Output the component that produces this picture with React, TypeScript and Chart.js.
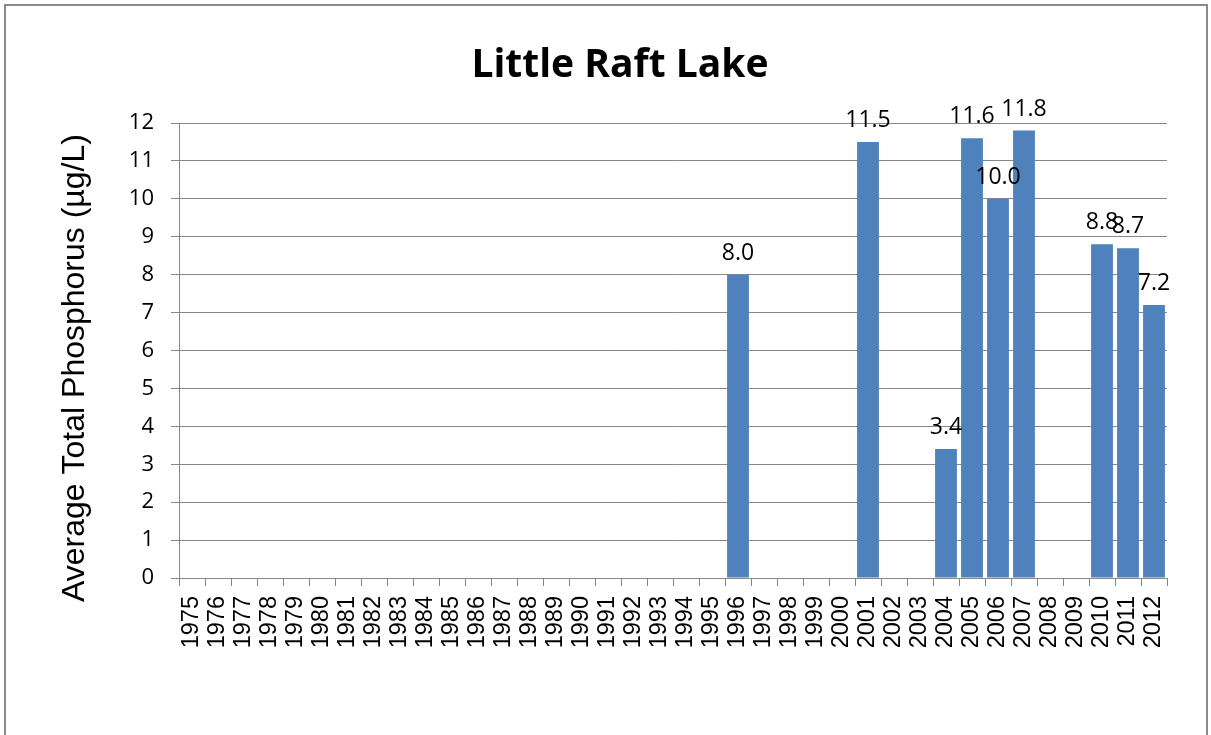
import React, { useEffect, useRef } from "react";
import { Chart, registerables } from "chart.js";

Chart.register(...registerables);

const chartTitle = "Little Raft Lake";
const yAxisTitle = "Average Total Phosphorus (µg/L)";

const years = [
  "1975", "1976", "1977", "1978", "1979", "1980", "1981", "1982", "1983", "1984",
  "1985", "1986", "1987", "1988", "1989", "1990", "1991", "1992", "1993", "1994",
  "1995", "1996", "1997", "1998", "1999", "2000", "2001", "2002", "2003", "2004",
  "2005", "2006", "2007", "2008", "2009", "2010", "2011", "2012",
];

const phosphorus: (number | null)[] = [
  null, null, null, null, null, null, null, null, null, null,
  null, null, null, null, null, null, null, null, null, null,
  null, 8.0, null, null, null, null, 11.5, null, null, 3.4,
  11.6, 10.0, 11.8, null, null, 8.8, 8.7, 7.2,
];

const yMin = 0;
const yMax = 12;
const yStep = 1;

const BAR_COLOR = "#4F81BD";
const GRID_COLOR = "#878787";

const overlayPlugin = {
  id: "overlayText",
  afterDatasetsDraw(chart: any) {
    const ctx = chart.ctx as CanvasRenderingContext2D;
    const ds = chart.data.datasets[0];
    const meta = chart.getDatasetMeta(0);
    ctx.save();
    // data labels
    ctx.fillStyle = "#000";
    ctx.font = '23px "Open Sans"';
    ctx.textAlign = "center";
    ctx.textBaseline = "alphabetic";
    meta.data.forEach((bar: any, i: number) => {
      const v = ds.data[i];
      if (v === null || v === undefined) return;
      ctx.fillText(Number(v).toFixed(1), bar.x, bar.y - 15);
    });
    // title
    ctx.font = 'bold 39px "Open Sans"';
    ctx.fillText(chartTitle, 620, 77);
    // y axis title
    ctx.translate(84, 368);
    ctx.rotate(-Math.PI / 2);
    ctx.font = '32px "Liberation Sans"';
    ctx.fillText(yAxisTitle, 0, 0);
    ctx.restore();
  },
};

export default function App() {
  const canvasRef = useRef<HTMLCanvasElement | null>(null);

  useEffect(() => {
    if (!canvasRef.current) return;
    const chart = new Chart(canvasRef.current, {
      type: "bar",
      data: {
        labels: years,
        datasets: [
          {
            data: phosphorus,
            backgroundColor: BAR_COLOR,
            borderWidth: 0,
            barPercentage: 0.84,
            categoryPercentage: 1.0,
          },
        ],
      },
      options: {
        responsive: false,
        animation: false,
        layout: { padding: { left: 0, right: 44, top: 123, bottom: 0 } },
        plugins: {
          legend: { display: false },
          tooltip: { enabled: false },
          title: { display: false },
        },
        scales: {
          x: {
            type: "category",
            grid: {
              display: true,
              drawOnChartArea: false,
              drawTicks: true,
              tickLength: 8,
              color: GRID_COLOR,
              offset: true,
            },
            border: { color: GRID_COLOR, width: 1 },
            ticks: {
              autoSkip: false,
              minRotation: 90,
              maxRotation: 90,
              padding: 10,
              color: "#000",
              font: { family: '"Liberation Sans"', size: 23.5 },
            },
            afterFit(scale: any) {
              scale.height = 157;
            },
          },
          y: {
            min: yMin,
            max: yMax,
            grid: {
              color: GRID_COLOR,
              lineWidth: 1,
              drawTicks: true,
              tickLength: 8,
            },
            border: { color: GRID_COLOR, width: 1 },
            ticks: {
              stepSize: yStep,
              padding: 17,
              color: "#000",
              font: { family: '"Open Sans"', size: 22 },
            },
            afterFit(scale: any) {
              scale.width = 179;
            },
          },
        },
      },
      plugins: [overlayPlugin],
    });
    return () => chart.destroy();
  }, []);

  return (
    <div
      style={{
        position: "fixed",
        left: 0,
        top: 0,
        width: 1211,
        height: 735,
        overflow: "hidden",
        background: "#fff",
      }}
    >
      <canvas
        ref={canvasRef}
        width={1211}
        height={735}
        style={{ position: "absolute", left: 0, top: 0, width: 1211, height: 735 }}
      />
      <div
        style={{
          position: "absolute",
          left: 4,
          top: 4,
          width: 1204,
          height: 800,
          border: "2px solid #8a8a8a",
          boxSizing: "border-box",
          pointerEvents: "none",
        }}
      />
    </div>
  );
}
